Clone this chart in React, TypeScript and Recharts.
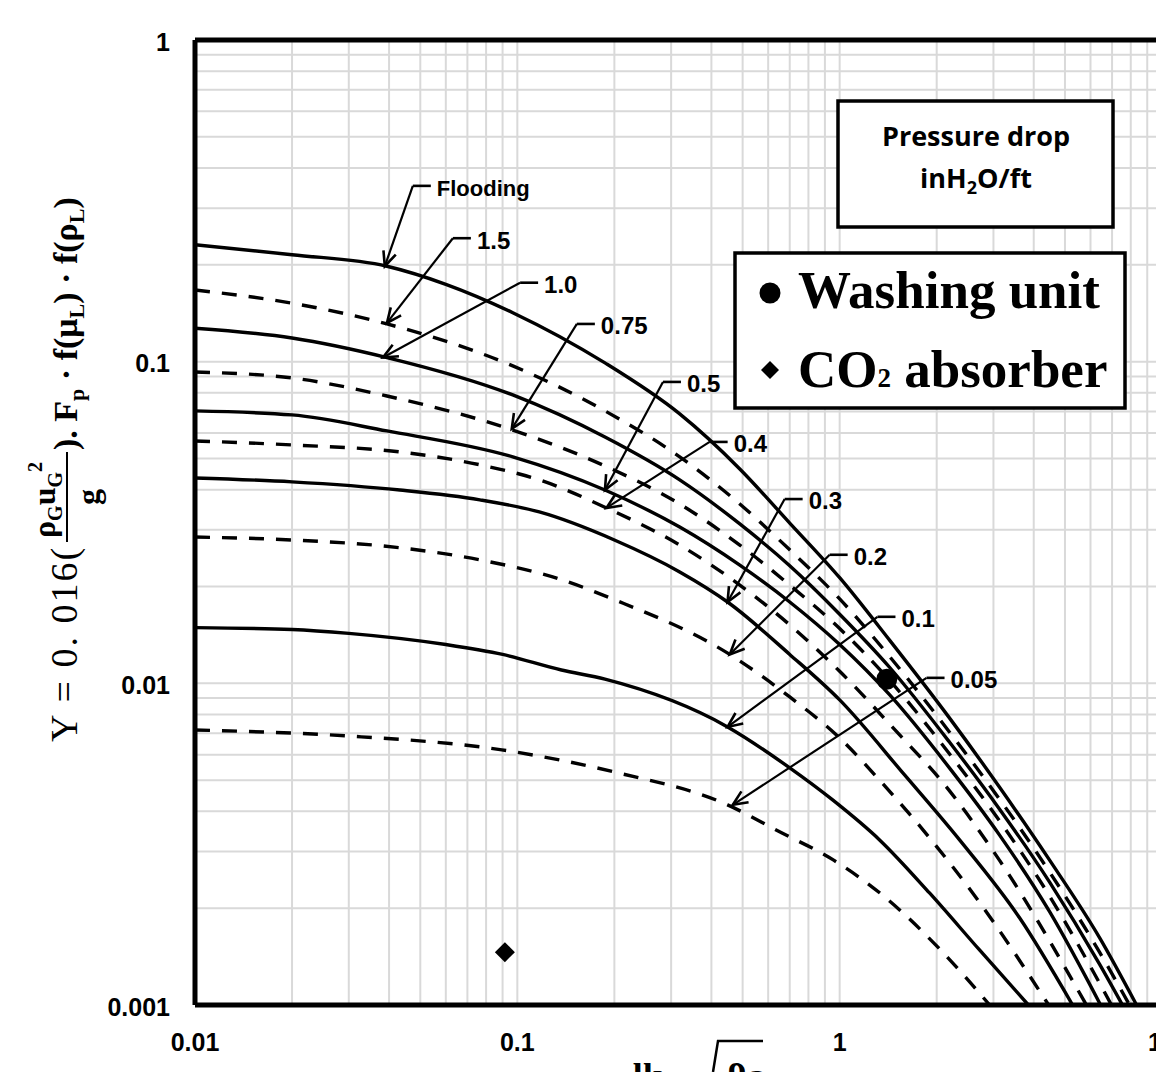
import React from "react";
import {
  ComposedChart, Line, Scatter, XAxis, YAxis,
  CartesianGrid, ReferenceLine,
} from "recharts";

// Pressure drop curves, [x, y] pairs
const flooding = [
  [0.01, 0.231], [0.02, 0.215], [0.0394, 0.198], [0.06, 0.174], [0.0968, 0.142], [0.187, 0.0991],
  [0.319, 0.0688], [0.49, 0.0464], [0.7, 0.0315], [1.0, 0.0213], [1.43, 0.0136],
  [2.19, 0.00781], [3.13, 0.00476], [4.48, 0.00282], [6.4, 0.00162], [8.34, 0.001],
];
const dp150 = [
  [0.01, 0.167], [0.02, 0.152], [0.0394, 0.131], [0.0968, 0.097], [0.187, 0.0703],
  [0.319, 0.0506], [0.49, 0.0361], [0.7, 0.026], [1.0, 0.0183], [1.43, 0.0121],
  [2.19, 0.00706], [3.13, 0.00437], [4.48, 0.00259], [6.4, 0.00146], [7.93, 0.001],
];
const dp100 = [
  [0.01, 0.127], [0.02, 0.1185], [0.0394, 0.103], [0.0968, 0.0788], [0.187, 0.0583],
  [0.319, 0.0429], [0.49, 0.0313], [0.7, 0.0232], [1.0, 0.0164], [1.43, 0.0112],
  [2.19, 0.00657], [3.13, 0.00407], [4.48, 0.00241], [6.4, 0.00134], [7.54, 0.001],
];
const dp075 = [
  [0.01, 0.0929], [0.02, 0.089], [0.0394, 0.0782], [0.0968, 0.0613], [0.187, 0.0474],
  [0.319, 0.0361], [0.49, 0.0269], [0.7, 0.0202], [1.0, 0.0148], [1.43, 0.0102],
  [2.19, 0.00604], [3.13, 0.00374], [4.48, 0.00218], [6.4, 0.00117], [6.97, 0.001],
];
const dp050 = [
  [0.01, 0.0703], [0.02, 0.0683], [0.0394, 0.0609], [0.0968, 0.0506], [0.187, 0.0399],
  [0.319, 0.0306], [0.49, 0.0233], [0.7, 0.0179], [1.0, 0.0132], [1.43, 0.0092],
  [2.19, 0.00546], [3.13, 0.00338], [4.48, 0.00195], [6.45, 0.001],
];
const dp040 = [
  [0.01, 0.0567], [0.02, 0.0551], [0.0432, 0.0524], [0.0765, 0.0478], [0.117, 0.0429],
  [0.189, 0.0351], [0.319, 0.0269], [0.49, 0.0202], [0.7, 0.0152], [1.0, 0.0109],
  [1.535, 0.00691], [2.06, 0.005], [3.13, 0.00282], [5.83, 0.001],
];
const dp030 = [
  [0.01, 0.0435], [0.02, 0.0423], [0.0432, 0.0399], [0.0765, 0.0372], [0.117, 0.0341],
  [0.2, 0.0279], [0.319, 0.0222], [0.449, 0.0179], [0.7, 0.0123], [1.0, 0.00888],
  [1.59, 0.00519], [2.355, 0.00326], [3.61, 0.00187], [5.28, 0.001],
];
const dp020 = [
  [0.01, 0.0285], [0.02, 0.0279], [0.0432, 0.0264], [0.0765, 0.0242], [0.137, 0.021],
  [0.2, 0.0182], [0.456, 0.0123], [0.7, 0.00907], [1.0, 0.00676], [1.33, 0.005],
  [1.9, 0.00331], [2.72, 0.00208], [4.45, 0.001],
];
const dp010 = [
  [0.01, 0.0149], [0.02, 0.0147], [0.03, 0.0143], [0.06, 0.0132], [0.09, 0.0123],
  [0.137, 0.011], [0.187, 0.0103], [0.449, 0.00732], [0.7, 0.00546], [0.951, 0.00434],
  [1.33, 0.00326], [1.9, 0.00223], [2.72, 0.00148], [3.85, 0.001],
];
const dp005 = [
  [0.01, 0.00716], [0.0298, 0.00686], [0.0895, 0.00621], [0.2, 0.0053], [0.449, 0.00419],
  [0.642, 0.00348], [0.958, 0.00282], [1.37, 0.00218], [2.06, 0.00148], [2.92, 0.001],
];

const washingUnit = [[1.4, 0.0103]];
const co2Absorber = [[0.0915, 0.00146]];

// leader arrows: label, elbow point, arrow tip (data coords)
const leaderLabels = ["Flooding", "1.5", "1.0", "0.75", "0.5", "0.4", "0.3", "0.2", "0.1", "0.05"];
const leaderElbows = [
  [0.0474, 0.352], [0.0631, 0.242], [0.102, 0.176], [0.153, 0.131], [0.283, 0.0865],
  [0.395, 0.0563], [0.675, 0.0374], [0.931, 0.0251], [1.31, 0.0161], [1.86, 0.0104],
];
const leaderTips = [
  [0.0388, 0.198], [0.0394, 0.132], [0.0383, 0.103], [0.0961, 0.0618], [0.187, 0.0399],
  [0.189, 0.0351], [0.449, 0.0179], [0.456, 0.0123], [0.449, 0.00732], [0.466, 0.00419],
];

const xTicks = [0.01, 0.1, 1, 10];
const yTicks = [0.001, 0.01, 0.1, 1];

const curves = [
  { key: "flooding", points: flooding, dashed: false },
  { key: "dp150", points: dp150, dashed: true },
  { key: "dp100", points: dp100, dashed: false },
  { key: "dp075", points: dp075, dashed: true },
  { key: "dp050", points: dp050, dashed: false },
  { key: "dp040", points: dp040, dashed: true },
  { key: "dp030", points: dp030, dashed: false },
  { key: "dp020", points: dp020, dashed: true },
  { key: "dp010", points: dp010, dashed: false },
  { key: "dp005", points: dp005, dashed: true },
];

// log grid: 1..9 in every decade
const decadeLines = (from: number, to: number) => {
  const out: number[] = [];
  for (let d = from; d < to * 0.99; d *= 10) {
    for (let k = 1; k <= 9; k++) out.push(+(d * k).toPrecision(3));
  }
  out.push(to);
  return out;
};
const gridX = decadeLines(0.01, 10);
const gridY = decadeLines(0.001, 1);

const toXY = (pts: number[][]) => pts.map(([x, y]) => ({ x, y }));

const SANS = "'Liberation Sans', Arial, sans-serif";
const SERIF = "'Liberation Serif', 'Times New Roman', serif";

const XTick = ({ x, y, payload }: any) => (
  <text x={x} y={y + 46} textAnchor="middle" fontFamily={SANS} fontWeight="bold" fontSize={25} fill="#000">
    {String(payload.value)}
  </text>
);

const YTick = ({ x, y, payload }: any) => (
  <text x={x - 25} y={y + 2} dy="0.35em" textAnchor="end" fontFamily={SANS} fontWeight="bold" fontSize={25} fill="#000">
    {String(payload.value)}
  </text>
);

function leaderShape(label: string) {
  return (props: any) => {
    const { x1, y1, x2, y2 } = props;
    const ang = Math.atan2(y2 - y1, x2 - x1) + Math.PI;
    const len = 16;
    const s = 0.42;
    const p1 = `${x2 + len * Math.cos(ang - s)},${y2 + len * Math.sin(ang - s)}`;
    const p2 = `${x2 + len * Math.cos(ang + s)},${y2 + len * Math.sin(ang + s)}`;
    return (
      <g>
        <line x1={x1} y1={y1} x2={x2} y2={y2} stroke="#000" strokeWidth={2.2} />
        <polyline points={`${p1} ${x2},${y2} ${p2}`} fill="none" stroke="#000" strokeWidth={2.6} />
        <line x1={x1} y1={y1} x2={x1 + 18} y2={y1} stroke="#000" strokeWidth={2.6} />
        <text x={x1 + 24} y={y1 + 2} dy="0.35em" fontFamily={SANS} fontWeight="bold" fontSize={label === "Flooding" ? 22 : 24} fill="#000">
          {label}
        </text>
      </g>
    );
  };
}

export default function App() {
  return (
    <div style={{ position: "absolute", left: 0, top: 0, width: 1156, height: 1072, overflow: "hidden", background: "#fff" }}>
      <ComposedChart width={1170} height={1072} margin={{ top: 40, right: 8, bottom: 0, left: 0 }}>
        <CartesianGrid
          stroke="#d9d9d9"
          strokeWidth={2}
          horizontalValues={gridY}
          verticalValues={gridX}
        />
        <XAxis
          dataKey="x"
          type="number"
          scale="log"
          domain={[0.01, 10]}
          allowDataOverflow
          ticks={xTicks}
          interval={0}
          height={67}
          tickLine={false}
          tickSize={0}
          tickMargin={0}
          axisLine={{ stroke: "#000", strokeWidth: 5 }}
          tick={<XTick />}
        />
        <YAxis
          type="number"
          scale="log"
          domain={[0.001, 1]}
          allowDataOverflow
          ticks={yTicks}
          interval={0}
          width={195}
          tickLine={false}
          tickSize={0}
          tickMargin={0}
          axisLine={{ stroke: "#000", strokeWidth: 5 }}
          tick={<YTick />}
        />
        <ReferenceLine y={1} stroke="#000" strokeWidth={5} />
        {curves.map((c) => (
          <Line
            key={c.key}
            data={toXY(c.points)}
            dataKey="y"
            type="monotone"
            stroke="#000"
            strokeWidth={3.4}
            strokeDasharray={c.dashed ? "15 12" : undefined}
            dot={false}
            activeDot={false}
            isAnimationActive={false}
          />
        ))}
        {leaderLabels.map((label, i) => (
          <ReferenceLine
            key={label}
            segment={[
              { x: leaderElbows[i][0], y: leaderElbows[i][1] },
              { x: leaderTips[i][0], y: leaderTips[i][1] },
            ]}
            shape={leaderShape(label)}
          />
        ))}
        <Scatter
          data={toXY(washingUnit)}
          dataKey="y"
          isAnimationActive={false}
          shape={(p: any) => <circle cx={p.cx} cy={p.cy} r={10.5} fill="#000" />}
        />
        <Scatter
          data={toXY(co2Absorber)}
          dataKey="y"
          isAnimationActive={false}
          shape={(p: any) => (
            <polygon
              points={`${p.cx},${p.cy - 10} ${p.cx + 10},${p.cy} ${p.cx},${p.cy + 10} ${p.cx - 10},${p.cy}`}
              fill="#000"
            />
          )}
        />
      </ComposedChart>

      <svg width={1156} height={1072} style={{ position: "absolute", left: 0, top: 0, pointerEvents: "none" }}>
        {/* y axis title */}
        <g transform="translate(77,742) rotate(-90)" fontFamily={SERIF} fill="#000">
          <text x={0} y={0} fontSize={38} letterSpacing={2}>Y = 0. 016(</text>
          <text x={204} y={-22} fontSize={32} fontWeight="bold">
            ρ<tspan fontSize={20} dy={7}>G</tspan>
            <tspan dy={-7}>u</tspan>
            <tspan fontSize={20} dy={7}>G</tspan>
            <tspan fontSize={20} dy={-20}>2</tspan>
          </text>
          <line x1={200} y1={-10} x2={290} y2={-10} stroke="#000" strokeWidth={2} />
          <text x={245} y={22} fontSize={32} fontWeight="bold" textAnchor="middle">g</text>
          <text x={292} y={0} fontSize={34} fontWeight="bold">
            ). F<tspan fontSize={22} dy={7}>p</tspan>
            <tspan dy={-7}> · f(μ</tspan>
            <tspan fontSize={22} dy={7}>L</tspan>
            <tspan dy={-7}>) · f(ρ</tspan>
            <tspan fontSize={22} dy={7}>L</tspan>
            <tspan dy={-7}>)</tspan>
          </text>
        </g>

        {/* x axis title, mostly below the visible area */}
        <g fontFamily={SERIF} fontWeight="bold" fill="#000">
          <text x={633} y={1080} fontSize={36}>
            u<tspan fontSize={24} dy={6}>L</tspan>
          </text>
          <path d="M 713 1072 L 718 1041 L 763 1041" stroke="#000" strokeWidth={2.5} fill="none" />
          <text x={727} y={1080} fontSize={36}>
            ρ<tspan fontSize={24} dy={6}>G</tspan>
          </text>
        </g>

        {/* pressure drop box */}
        <rect x={838} y={101} width={275} height={126} fill="#fff" stroke="#000" strokeWidth={3.5} />
        <g fontFamily="'Open Sans', sans-serif" fontWeight={700} fontSize={27} fill="#000" textAnchor="middle">
          <text x={976} y={146}>Pressure drop</text>
          <text x={976} y={188}>
            inH<tspan fontSize={18} dy={6}>2</tspan>
            <tspan dy={-6}>O/ft</tspan>
          </text>
        </g>

        {/* marker legend */}
        <rect x={735} y={253} width={390} height={155} fill="#fff" stroke="#000" strokeWidth={3.5} />
        <circle cx={770} cy={293} r={10.5} fill="#000" />
        <polygon points="770,361 779,370 770,379 761,370" fill="#000" />
        <g fontFamily={SERIF} fontWeight="bold" fontSize={53} fill="#000">
          <text x={798} y={308}>Washing unit</text>
          <text x={798} y={387}>
            CO<tspan fontSize={27}>2</tspan> absorber
          </text>
        </g>
      </svg>
    </div>
  );
}
